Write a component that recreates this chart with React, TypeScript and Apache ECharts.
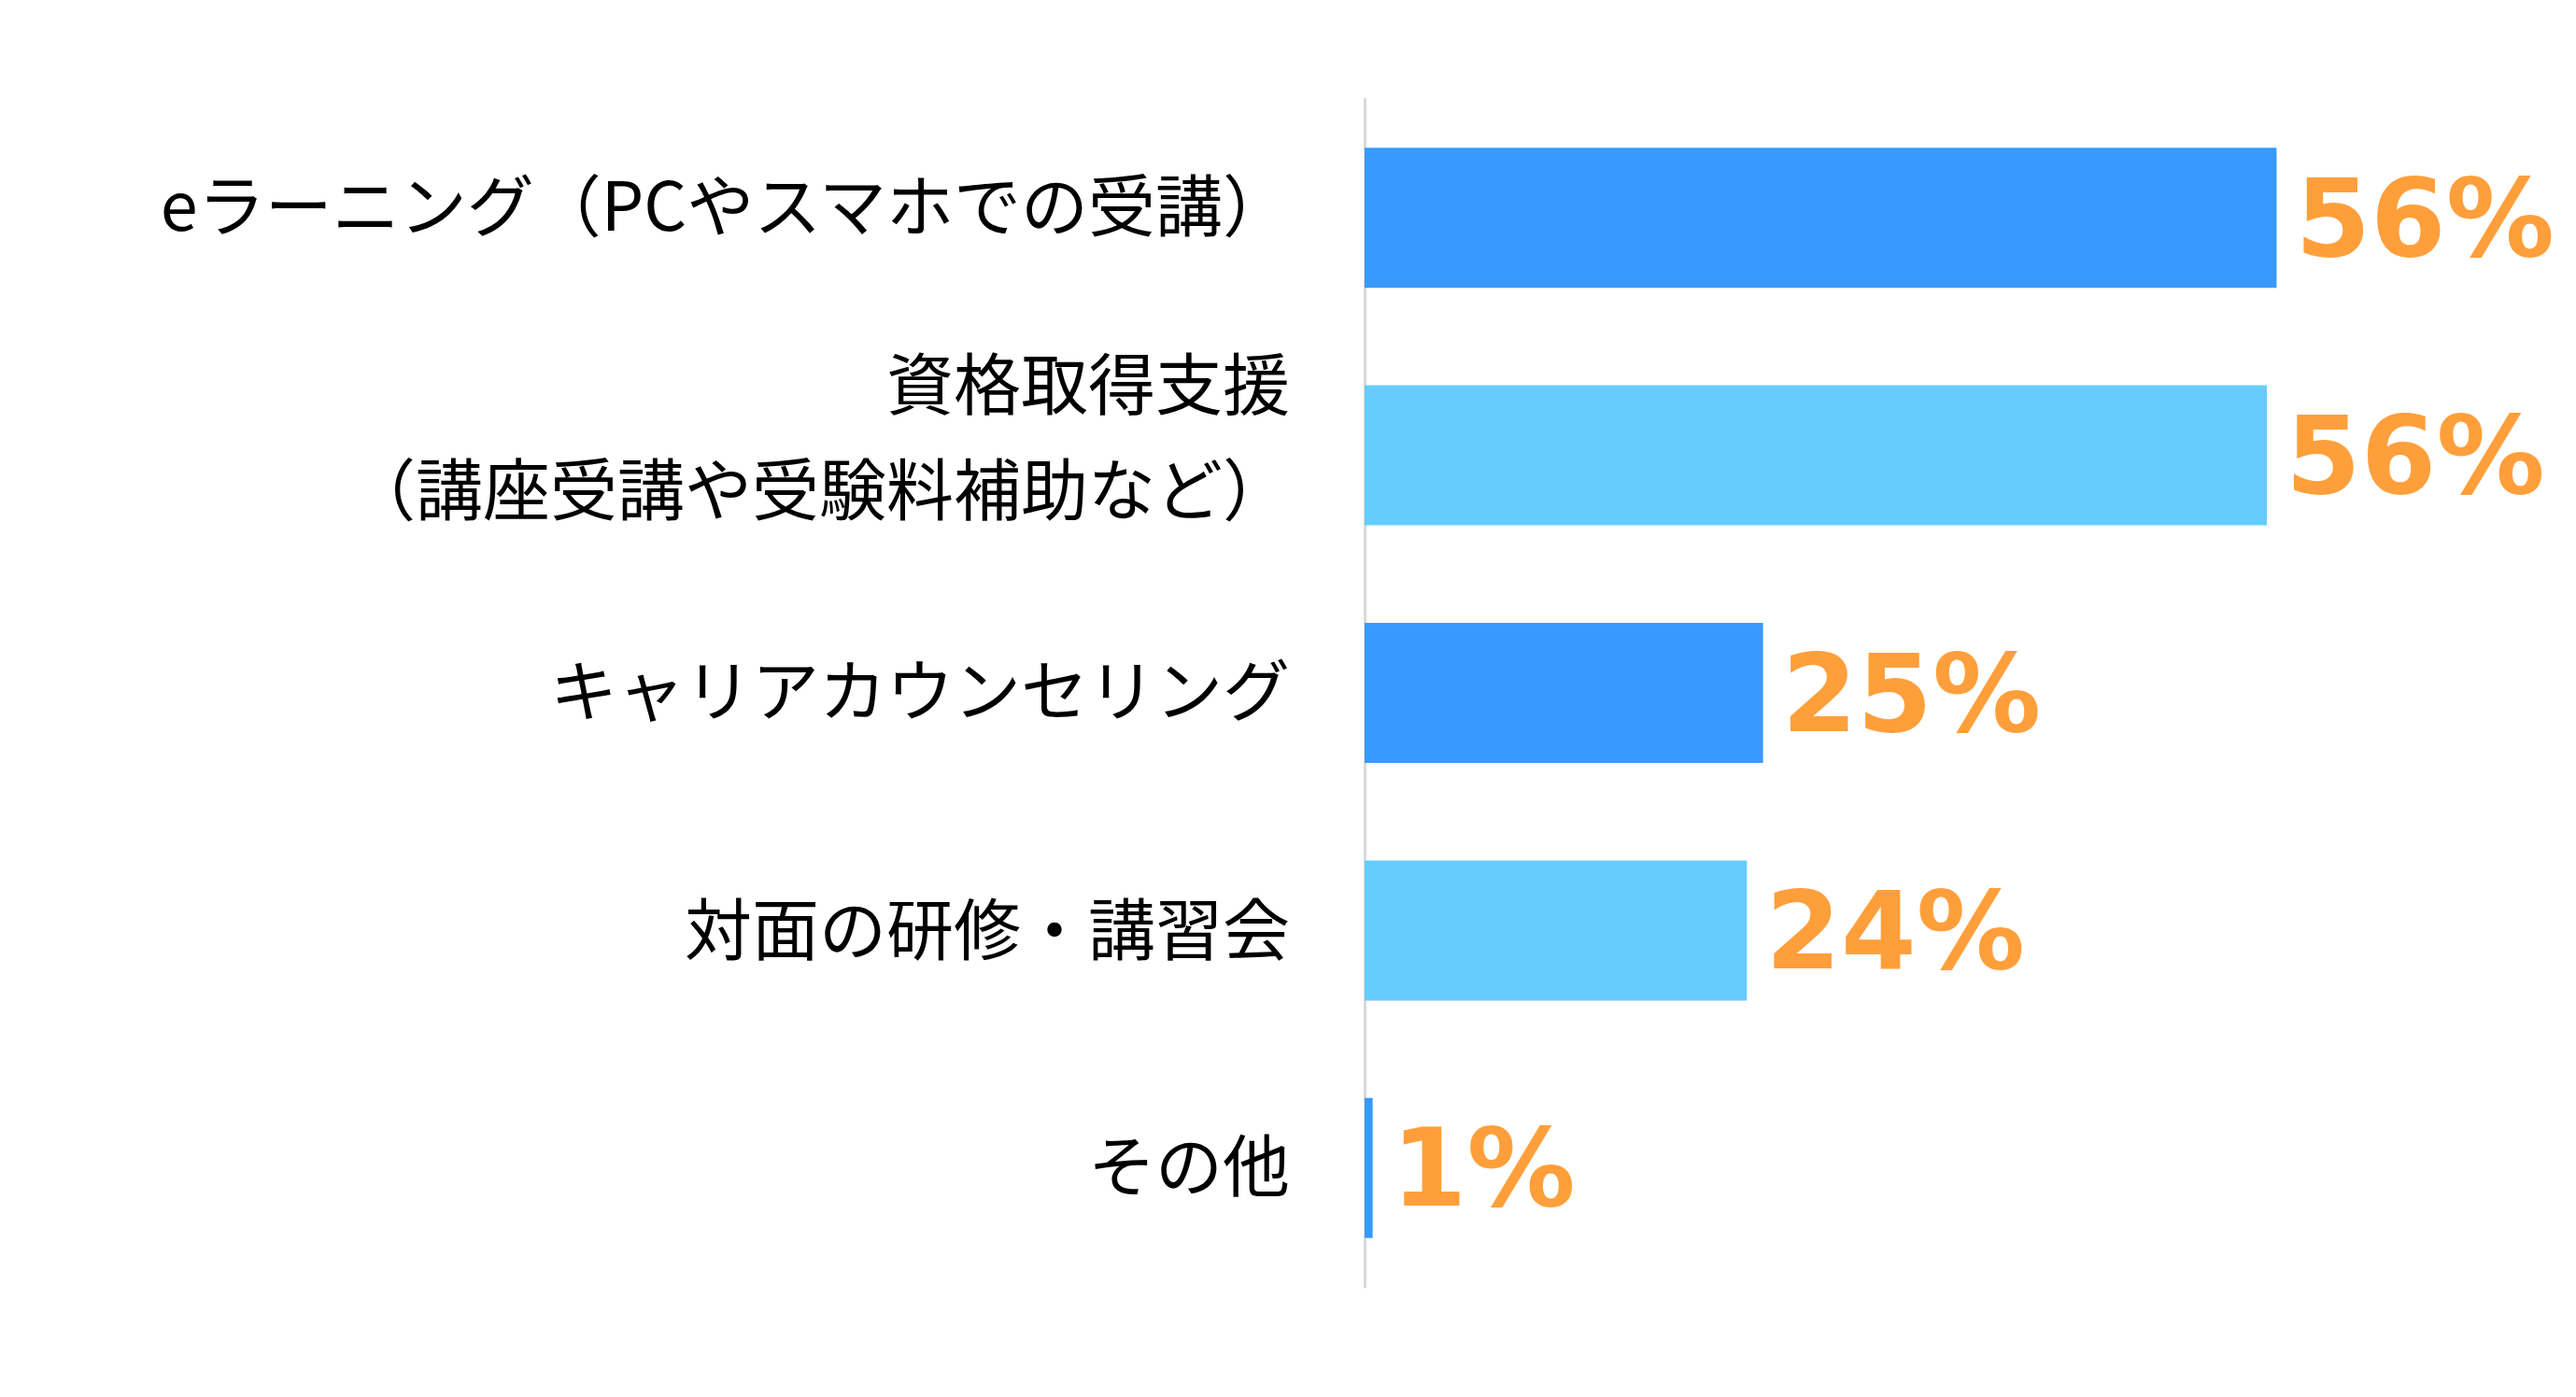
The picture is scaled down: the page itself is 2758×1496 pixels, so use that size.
import React, { useEffect, useRef } from "react";
import * as echarts from "echarts";

const categories = [
  "eラーニング（PCやスマホでの受講）",
  "資格取得支援\n（講座受講や受験料補助など）",
  "キャリアカウンセリング",
  "対面の研修・講習会",
  "その他",
];
const values = [56.3, 55.7, 24.6, 23.6, 0.5];
const valueLabels = ["56%", "56%", "25%", "24%", "1%"];

const palette = ["#3899FF", "#66CCFF"];
const labelLift = [36, 50, 16, 12, 14];

export default function App() {
  const ref = useRef<HTMLDivElement>(null);
  useEffect(() => {
    if (!ref.current) return;
    const chart = echarts.init(ref.current, undefined, { renderer: "svg" });
    const rich: any = {
      t: {
        fontSize: 72,
        lineHeight: 113,
        color: "#000000",
        fontFamily: "Noto Sans CJK JP",
        align: "right",
      },
    };
    labelLift.forEach((h, i) => {
      rich["g" + i] = { fontSize: 2, lineHeight: h, align: "right" };
    });
    chart.setOption({
      animation: false,
      backgroundColor: "#ffffff",
      grid: { left: 1461, top: 106, width: 1214, height: 1272 },
      xAxis: {
        type: "value",
        min: 0,
        max: 70,
        show: false,
      },
      yAxis: {
        type: "category",
        data: categories,
        inverse: true,
        axisLine: { show: true, lineStyle: { color: "#D9D9D9", width: 3 } },
        axisTick: { show: false },
        splitLine: { show: false },
        axisLabel: {
          margin: 80,
          fontSize: 72,
          color: "#000000",
          fontFamily: "Noto Sans CJK JP",
          lineHeight: 113,
          align: "right",
          formatter: (value: string, index: number) =>
            value
              .split("\n")
              .map((l) => `{t|${l}}`)
              .join("\n") + `\n{g${index}| }`,
          rich,
        },
      },
      series: [
        {
          type: "bar",
          barWidth: 150,
          data: values.map((v, i) => ({
            value: v,
            itemStyle: { color: palette[i % 2] },
          })),
          label: {
            show: true,
            position: "right",
            distance: 20,
            formatter: (p: any) => valueLabels[p.dataIndex],
            color: "#FF9F3B",
            fontSize: 116,
            fontWeight: "bold",
            fontFamily: "DejaVu Sans",
          },
        },
      ],
    });
    return () => chart.dispose();
  }, []);
  return (
    <div
      ref={ref}
      style={{ position: "fixed", left: 0, top: 0, width: "100vw", height: "100vh" }}
    />
  );
}
